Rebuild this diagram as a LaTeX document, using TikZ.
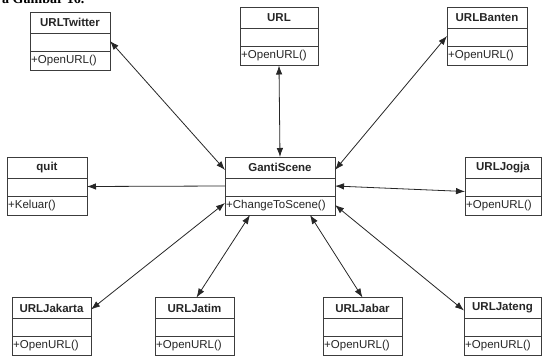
\documentclass[tikz,border=0pt]{standalone}
\usepackage{fontspec}
\setmainfont{Liberation Sans}
\newfontfamily\captionfont{Liberation Serif}
\usetikzlibrary{arrows.meta}

\definecolor{boxgray}{HTML}{3C3C3C}
\definecolor{linegray}{HTML}{262626}

\tikzset{
  classbox/.style={draw=boxgray, line width=1pt, fill=white, minimum height=58pt,
    inner sep=0pt, outer sep=0pt},
  divider/.style={draw=boxgray, line width=1pt},
  titletext/.style={font=\fontsize{11.5}{13}\selectfont\bfseries, text=black!85, inner sep=0pt},
  optext/.style={font=\fontsize{11.5}{13}\selectfont, text=black!85, anchor=west, inner sep=1pt},
  tip/.tip={Latex[length=9pt,width=6.5pt]},
  conn/.style={draw=linegray, line width=0.8pt, tip-tip},
  connone/.style={draw=linegray, line width=0.8pt, -tip},
}

% UML class box: name, centre x, centre y, width, class title, operation
\newcommand\umlclass[6]{%
  \node[classbox, minimum width=#4pt] (#1) at (#2,#3) {};
  \draw[divider] ([yshift=-21pt]#1.north west) -- ([yshift=-21pt]#1.north east);
  \draw[divider] ([yshift=19pt]#1.south west) -- ([yshift=19pt]#1.south east);
  \node[titletext] (#1-title) at ([yshift=-10.5pt]#1.north) {#5};
  \node[optext] (#1-op) at ([yshift=9.5pt]#1.south west) {#6};
}

\begin{document}
\begin{tikzpicture}[x=1pt, y=-1pt]
  \useasboundingbox (0,0) rectangle (542,356);

  % heading line running off the top edge
  \begin{scope}
    \clip (0,0) rectangle (542,356);
    \node[font=\captionfont\fontsize{14}{16}\selectfont\bfseries, anchor=base west,
      inner sep=0pt] (heading) at (2,3) {a Gambar 16.};
  \end{scope}

  % classes
  \umlclass{tw}{70}{41}{80}{URLTwitter}{+OpenURL()}
  \umlclass{url}{279}{36.5}{78}{URL}{+OpenURL()}
  \umlclass{ban}{487}{36}{80}{URLBanten}{+OpenURL()}
  \umlclass{quit}{47}{186.5}{80}{quit}{+Keluar()}
  \umlclass{gs}{280}{186}{110}{GantiScene}{+ChangeToScene()}
  \umlclass{jog}{503}{186.5}{76}{URLJogja}{+OpenURL()}
  \umlclass{jak}{51.5}{326.5}{79}{URLJakarta}{+OpenURL()}
  \umlclass{jatim}{194.5}{326.5}{79}{URLJatim}{+OpenURL()}
  \umlclass{jabar}{362.5}{326.5}{79}{URLJabar}{+OpenURL()}
  \umlclass{jateng}{502.5}{326.5}{77}{URLJateng}{+OpenURL()}

  % associations
  \draw[conn] ([yshift=-13pt]gs.north west) -- (tw.east);
  \draw[conn] (gs.north) -- (url.south);
  \draw[conn] ([yshift=-13pt]gs.north east) -- (ban.west);
  \draw[connone] (gs.west) -- (quit.east);
  \draw[conn] (gs.east) -- ([yshift=-5pt]jog.west);
  \draw[conn] ([yshift=12pt]gs.south west) -- ([yshift=-12pt]jak.north east);
  \draw[conn] ([xshift=25pt]gs.south west) -- ([xshift=2pt]jatim.north);
  \draw[conn] ([xshift=-25pt]gs.south east) -- (jabar.north);
  \draw[conn] ([yshift=10pt]gs.south east) -- ([yshift=-13pt]jateng.north west);
\end{tikzpicture}
\end{document}
